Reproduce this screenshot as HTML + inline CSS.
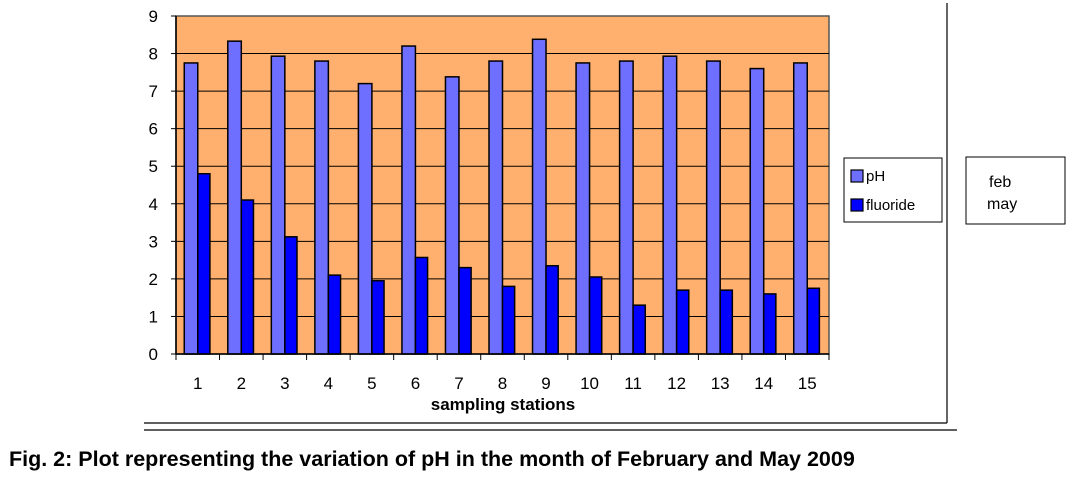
<!DOCTYPE html>
<html><head><meta charset="utf-8"><style>
html,body{margin:0;padding:0;background:#fff;width:1074px;height:479px;overflow:hidden;font-family:"Liberation Sans",Arial,sans-serif}
</style></head><body>
<svg id="chart" width="1074" height="479" xmlns="http://www.w3.org/2000/svg" font-family="Liberation Sans, Arial, sans-serif">
<line x1="947" y1="3" x2="947" y2="423" stroke="#000" stroke-width="1.2"/>
<line x1="144" y1="423" x2="947" y2="423" stroke="#000" stroke-width="1.2"/>
<line x1="144" y1="430" x2="957" y2="430" stroke="#000" stroke-width="1.2"/>
<rect x="176" y="16" width="653" height="338" fill="#FFB06E" stroke="#555" stroke-width="1.5"/>
<g id="grid"></g><g id="bars"></g><g id="axes"></g>
<text x="503" y="410" font-size="17" font-weight="bold" text-anchor="middle">sampling stations</text>
<g>
<rect x="844" y="158" width="98" height="64" fill="#fff" stroke="#000"/>
<rect x="851" y="170" width="12" height="12" fill="#6F6FFF" stroke="#000" stroke-width="1.2"/>
<text x="866" y="181" font-size="15">pH</text>
<rect x="851" y="199" width="12" height="12" fill="#0000FF" stroke="#000" stroke-width="1.2"/>
<text x="866" y="210" font-size="15">fluoride</text>
</g>
<g>
<rect x="966" y="157" width="99" height="67" fill="#fff" stroke="#000"/>
<text x="989" y="187" font-size="16">feb</text>
<text x="987" y="209" font-size="16">may</text>
</g>
<text x="9" y="466" font-size="21.5" font-weight="bold">Fig. 2: Plot representing the variation of pH in the month of February and May 2009</text>
</svg>
<script>
const categories=["1","2","3","4","5","6","7","8","9","10","11","12","13","14","15"];
const phValues=[7.75,8.33,7.93,7.8,7.2,8.2,7.38,7.8,8.38,7.75,7.8,7.93,7.8,7.6,7.75];
const fluorideValues=[4.8,4.1,3.12,2.1,1.95,2.57,2.3,1.8,2.35,2.05,1.3,1.7,1.7,1.6,1.75];
const yTicks=[0,1,2,3,4,5,6,7,8,9];
const NS="http://www.w3.org/2000/svg";
const X0=176,X1=829,Y0=354,Y1=16,YMAX=9;
const bw=(X1-X0)/categories.length;
function y(v){return Y0-(v/YMAX)*(Y0-Y1);}
function xc(i){return X0+i*bw;}
function mk(t,a,p){const e=document.createElementNS(NS,t);for(const k in a)e.setAttribute(k,a[k]);p.appendChild(e);return e;}
const grid=document.getElementById('grid'),bars=document.getElementById('bars'),axes=document.getElementById('axes');
yTicks.forEach(v=>{
 if(v>0&&v<YMAX){const g=mk('line',{x1:X0,x2:X1,y1:y(v),y2:y(v),stroke:'#000','stroke-width':1},grid);
 
 }
 const tk=mk('line',{x1:X0-5,x2:X0,y1:y(v),y2:y(v),stroke:'#000'},axes);
 
 
 const t=mk('text',{x:X0-18,y:y(v)+6,'font-size':17,'text-anchor':'end'},axes);t.textContent=v;
 
 
});
const w=13.5;
categories.forEach((c,i)=>{
 const x=xc(i)+bw/2-w;
 const b1=mk('rect',{x:x,y:y(phValues[i]),width:w,height:Y0-y(phValues[i]),fill:'#6F6FFF',stroke:'#000','stroke-width':1.5},bars);
 
 
 const b2=mk('rect',{x:x+w,y:y(fluorideValues[i]),width:w*0.9,height:Y0-y(fluorideValues[i]),fill:'#0000FF',stroke:'#000','stroke-width':1.5},bars);
 
 
 const t=mk('text',{x:xc(i)+bw/2,y:389,'font-size':17,'text-anchor':'middle'},axes);t.textContent=c;
 
 
});
for(let i=0;i<=categories.length;i++){const tk=mk('line',{x1:xc(i),x2:xc(i),y1:Y0,y2:Y0+6,stroke:'#000'},axes);
 
 }
const ax=mk('line',{x1:X0,x2:X1,y1:Y0,y2:Y0,stroke:'#000','stroke-width':1.5},axes);


const ay=mk('line',{x1:X0,x2:X0,y1:Y1,y2:Y0,stroke:'#000','stroke-width':1.5},axes);


</script>
</body></html>
